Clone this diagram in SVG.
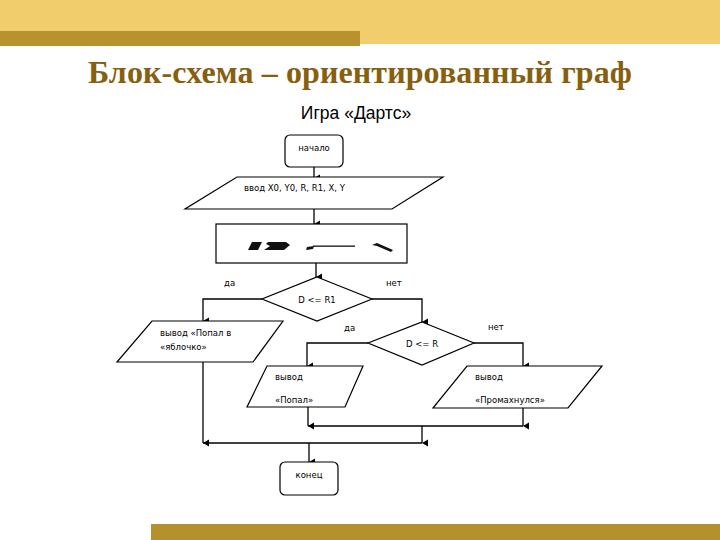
<svg xmlns="http://www.w3.org/2000/svg" width="720" height="540" viewBox="0 0 720 540">
<defs>
<style>
.box{fill:#fff;stroke:#000;stroke-width:1.2}
.ln{fill:none;stroke:#000;stroke-width:1.3}
.t{font-family:"DejaVu Sans","Liberation Sans",sans-serif;font-size:8.5px;fill:#000}
.tc{text-anchor:middle}
</style>
<marker id="ah" markerUnits="userSpaceOnUse" markerWidth="8" markerHeight="8" refX="3.5" refY="7" orient="auto-start-reverse" viewBox="0 0 7 8">
<path d="M0,1 L7,1 L3.5,7 Z" fill="#000"/>
</marker>
</defs>
<rect width="720" height="540" fill="#fff"/>
<g id="decor">
<rect x="0" y="0" width="720" height="44" fill="#F2CD6B"/>
<rect x="0" y="31" width="360" height="15" fill="#B8922F"/>
<rect x="151" y="524" width="569" height="16" fill="#B5912D"/>
</g>
<text id="title" x="360" y="83" text-anchor="middle" textLength="544" font-family="Liberation Serif,serif" font-weight="bold" font-size="32" fill="#86600F">Блок-схема – ориентированный граф</text>
<text id="subtitle" x="356" y="119" text-anchor="middle" font-family="Liberation Sans,Arial,sans-serif" font-size="17.5" fill="#000">Игра «Дартс»</text>

<g id="connectors">
<line class="ln" x1="314" y1="167" x2="314" y2="178" marker-end="url(#ah)"/>
<line class="ln" x1="314" y1="209" x2="314" y2="224" marker-end="url(#ah)"/>
<line class="ln" x1="316" y1="263" x2="316" y2="277" marker-end="url(#ah)"/>
<polyline class="ln" points="262,299 203,299 203,321" marker-end="url(#ah)"/>
<polyline class="ln" points="372,299 422,299 422,322" marker-end="url(#ah)"/>
<polyline class="ln" points="368,343 307,343 307,366" marker-end="url(#ah)"/>
<polyline class="ln" points="474,343 523,343 523,366" marker-end="url(#ah)"/>
<line class="ln" x1="308" y1="407" x2="308" y2="426" marker-end="url(#ah)"/>
<line class="ln" x1="523" y1="408" x2="523" y2="426" marker-end="url(#ah)"/>
<line class="ln" x1="308" y1="426" x2="523" y2="426"/>
<line class="ln" x1="422" y1="426" x2="422" y2="443" marker-end="url(#ah)"/>
<line class="ln" x1="203" y1="362" x2="203" y2="443" marker-end="url(#ah)"/>
<line class="ln" x1="203" y1="443" x2="422" y2="443"/>
<line class="ln" x1="309" y1="443" x2="309" y2="462" marker-end="url(#ah)"/>
</g>

<g id="start">
<rect class="box" x="285" y="135" width="58" height="32" rx="5"/>
<text class="t tc" x="314" y="151">начало</text>
</g>
<g id="input">
<polygon class="box" points="237,177 443,177 392,209 185,209"/>
<text class="t" x="244" y="191">ввод X0, Y0, R, R1, X, Y</text>
</g>
<g id="process">
<rect class="box" x="216" y="224" width="191" height="39"/>
<g fill="#111">
<polygon points="252,242 262,242 258,250 248,250"/>
<polygon points="268,242 286,242 290,245 284,250 264,250 270,246 266,244"/>
<polygon points="307,247 314,246 313,249 306,250"/>
<rect x="313" y="245.5" width="42" height="1.3"/>
<polygon points="372,245 377,243 393,250 391,252 377,246"/>
</g>
</g>
<g id="cond1">
<polygon class="box" points="317,277 372,299 317,321 262,299"/>
<text class="t tc" x="317" y="303">D &lt;= R1</text>
</g>
<text class="t" x="224" y="286">да</text>
<text class="t" x="386" y="286">нет</text>
<g id="out-apple">
<polygon class="box" points="152,321 283,321 253,362 117,362"/>
<text class="t" x="160" y="336">вывод «Попал в</text>
<text class="t" x="160" y="350">«яблочко»</text>
</g>
<g id="cond2">
<polygon class="box" points="422,322 474,343 422,365 368,343"/>
<text class="t tc" x="422" y="347">D &lt;= R</text>
</g>
<text class="t" x="344" y="331">да</text>
<text class="t" x="488" y="330">нет</text>
<g id="out-hit">
<polygon class="box" points="267,366 363,366 345,407 247,407"/>
<text class="t" x="275" y="380">вывод</text>
<text class="t" x="275" y="403">«Попал»</text>
</g>
<g id="out-miss">
<polygon class="box" points="467,366 602,366 568,408 433,408"/>
<text class="t" x="475" y="380">вывод</text>
<text class="t" x="475" y="403">«Промахнулся»</text>
</g>
<g id="end">
<rect class="box" x="280" y="462" width="58" height="33" rx="5"/>
<text class="t tc" x="309" y="478">конец</text>
</g>
</svg>
